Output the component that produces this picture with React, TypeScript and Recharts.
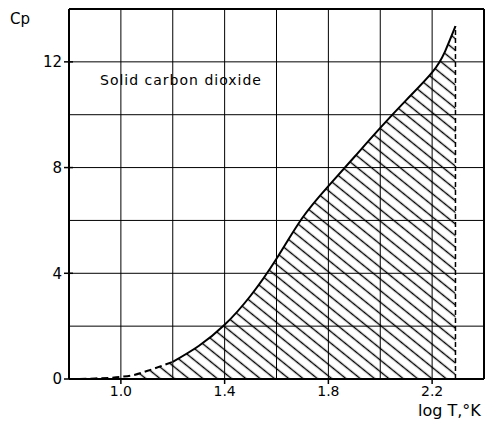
import {
	ComposedChart,
	Line,
	Area,
	XAxis,
	YAxis,
	CartesianGrid,
	ReferenceLine,
} from 'recharts';

// log T values and Cp
const logT = [0.84, 0.9, 1.0, 1.05, 1.1, 1.2, 1.3, 1.4, 1.5, 1.6, 1.7, 1.8, 1.9, 2.0, 2.1, 2.2, 2.25, 2.29];
const cp = [0.0, 0.02, 0.08, 0.15, 0.3, 0.65, 1.25, 2.05, 3.15, 4.55, 6.1, 7.3, 8.4, 9.5, 10.55, 11.6, 12.4, 13.35];

// grid every 0.2 / 2, labels only on some
const xGrid = [0.8, 1.0, 1.2, 1.4, 1.6, 1.8, 2.0, 2.2, 2.4];
const yGrid = [0, 2, 4, 6, 8, 10, 12, 14];
const xLabels = [1.0, 1.4, 1.8, 2.2];
const yLabels = [0, 4, 8, 12];

const dashedEnd = 1.2; // curve drawn dashed up to here
const hatchStart = 1.05; // hatching begins here
const melt = 2.29;

const points = logT.map((x, i) => ({ x, cp: cp[i] }));
const dashedPart = points.filter((p) => p.x <= dashedEnd);
const solidPart = points.filter((p) => p.x >= dashedEnd);
const hatchPart = points.filter((p) => p.x >= hatchStart);

const font = 'DejaVu Sans, sans-serif';

const has = (list: number[], v: number) => list.some((l) => Math.abs(l - v) < 1e-6);

const XTick = (props: any) => {
	const { x, y, payload } = props;
	if (!has(xLabels, payload.value)) return <g />;
	return (
		<g>
			<line x1={x} x2={x} y1={y - 7} y2={y - 2} stroke='#000' strokeWidth={1.5} />
			<text x={x} y={y} dy='0.71em' textAnchor='middle' fill='#000' fontSize={14} fontFamily={font}>
				{payload.value.toFixed(1)}
			</text>
		</g>
	);
};

const YTick = (props: any) => {
	const { x, y, payload } = props;
	if (!has(yLabels, payload.value)) return <g />;
	return (
		<g>
			<line x1={x + 2} x2={x + 11} y1={y} y2={y} stroke='#000' strokeWidth={1.5} />
			<text x={x} y={y} dy='0.355em' textAnchor='end' fill='#000' fontSize={15} fontFamily={font}>
				{payload.value}
			</text>
		</g>
	);
};

const App = () => {
	return (
		<div style={{ position: 'absolute', left: 0, top: 0, width: 490, height: 431, background: '#fff' }}>
			<ComposedChart
				width={490}
				height={431}
				margin={{ top: 9, right: 6, left: 0, bottom: 22 }}
			>
				<defs>
					<pattern
						id='hatch'
						patternUnits='userSpaceOnUse'
						width='18'
						height='9'
						patternTransform='rotate(39)'
					>
						<line x1='0' y1='4.5' x2='18' y2='4.5' stroke='#000' strokeWidth='1.4' />
					</pattern>
				</defs>
				<CartesianGrid stroke='#000' strokeWidth={1} />
				<XAxis
					dataKey='x'
					type='number'
					domain={[0.8, 2.4]}
					ticks={xGrid}
					interval={0}
					height={30}
					tickSize={5}
					tickMargin={2}
					allowDataOverflow
					axisLine={{ stroke: '#000', strokeWidth: 2 }}
					tickLine={false}
					tick={<XTick />}
				/>
				<YAxis
					type='number'
					domain={[0, 14]}
					ticks={yGrid}
					interval={0}
					width={69}
					tickSize={5}
					tickMargin={2}
					allowDataOverflow
					axisLine={{ stroke: '#000', strokeWidth: 2 }}
					tickLine={false}
					tick={<YTick />}
				/>
				<ReferenceLine y={14} stroke='#000' strokeWidth={2} />
				<ReferenceLine x={2.4} stroke='#000' strokeWidth={2} />
				<Area
					data={hatchPart}
					dataKey='cp'
					type='natural'
					stroke='none'
					fill='url(#hatch)'
					fillOpacity={1}
					isAnimationActive={false}
				/>
				<Line
					data={dashedPart}
					dataKey='cp'
					type='monotone'
					stroke='#000'
					strokeWidth={2}
					strokeDasharray='7 4'
					dot={false}
					isAnimationActive={false}
				/>
				<Line
					data={solidPart}
					dataKey='cp'
					type='natural'
					stroke='#000'
					strokeWidth={2}
					dot={false}
					isAnimationActive={false}
				/>
				<ReferenceLine
					segment={[{ x: melt, y: 0 }, { x: melt, y: 13.35 }]}
					stroke='#000'
					strokeWidth={1.5}
					strokeDasharray='5 3'
				/>
			</ComposedChart>
			<div style={{ position: 'absolute', left: 10, top: 10, fontFamily: font, fontSize: 15 }}>Cp</div>
			<div style={{ position: 'absolute', left: 100, top: 72, fontFamily: font, fontSize: 14, letterSpacing: 1 }}>
				Solid carbon dioxide
			</div>
			<div style={{ position: 'absolute', left: 418, top: 401, fontFamily: font, fontSize: 16 }}>log T,°K</div>
		</div>
	);
};

export default App;
